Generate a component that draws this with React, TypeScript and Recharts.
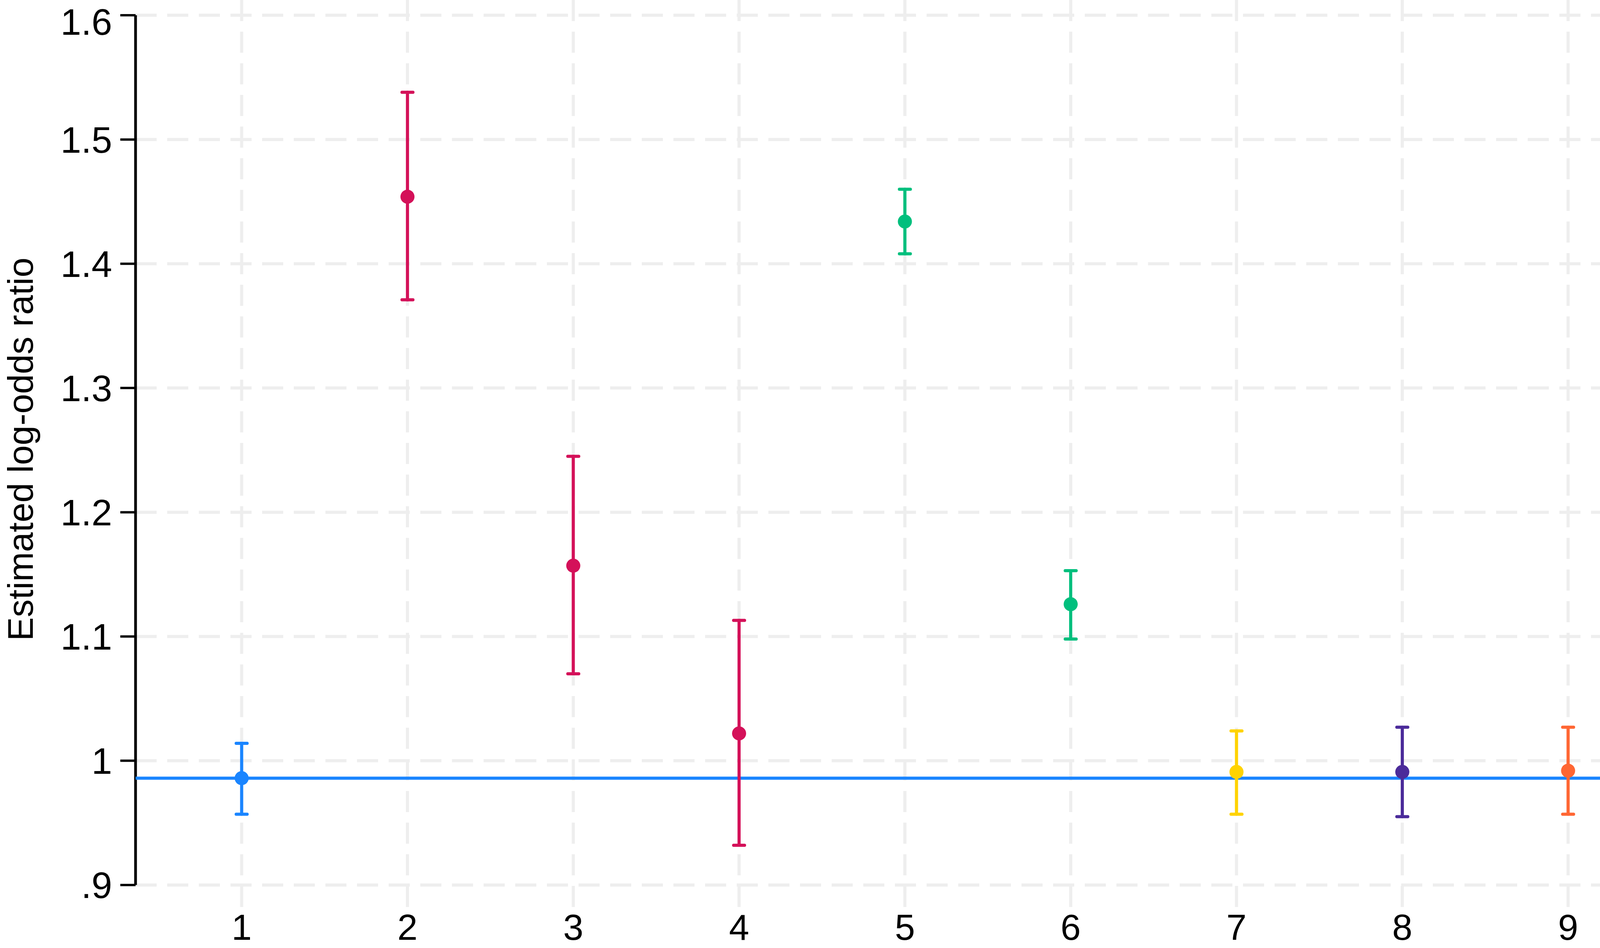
import {
  CartesianGrid,
  ComposedChart,
  Customized,
  ErrorBar,
  ReferenceLine,
  Scatter,
  XAxis,
  YAxis,
} from 'recharts';

const categories = [1, 2, 3, 4, 5, 6, 7, 8, 9];
const estimates = [0.986, 1.454, 1.157, 1.022, 1.434, 1.126, 0.991, 0.991, 0.992];
const lowerCI = [0.957, 1.371, 1.07, 0.932, 1.408, 1.098, 0.957, 0.955, 0.957];
const upperCI = [1.014, 1.538, 1.245, 1.113, 1.46, 1.153, 1.024, 1.027, 1.027];
const pointColors = [
  '#1A85FF',
  '#D41159',
  '#D41159',
  '#D41159',
  '#00BF7D',
  '#00BF7D',
  '#FFD300',
  '#4B2B9A',
  '#FF6633',
];
const baseline = 0.986;
const yTicks = [0.9, 1.0, 1.1, 1.2, 1.3, 1.4, 1.5, 1.6];
const xTicks = categories;

const X_DOMAIN: [number, number] = [0.36, 9.64];
const Y_DOMAIN: [number, number] = [0.8823, 1.6123];
const FONT = '"Liberation Sans", Arial, Helvetica, sans-serif';

const rows = categories.map((c, i) => ({
  x: c,
  y: estimates[i],
  err: [estimates[i] - lowerCI[i], upperCI[i] - estimates[i]],
}));

const fmtY = (v: number): string => {
  if (Math.abs(v - 1) < 1e-9) return '1';
  if (v < 1) return '.' + Math.round(v * 10);
  return v.toFixed(1);
};

const YLabel = () => (
  <text
    x={84}
    y={1150}
    transform="rotate(-90 84 1150)"
    textAnchor="middle"
    fontFamily={FONT}
    fontSize={91}
    fill="#000"
  >
    Estimated log-odds ratio
  </text>
);

export default function App(): React.ReactElement {
  return (
    <div style={{ position: 'absolute', left: 0, top: 0, width: 4286, height: 2427, background: '#fff' }}>
      <ComposedChart
        width={4286}
        height={2427}
        margin={{ top: 0, right: 0, bottom: 0, left: 0 }}
      >
        <CartesianGrid
          stroke="#EEEEEE"
          strokeWidth={8}
          strokeDasharray="54 27"
          syncWithTicks
        />
        <XAxis
          type="number"
          dataKey="x"
          domain={X_DOMAIN}
          ticks={xTicks}
          allowDataOverflow
          axisLine={false}
          tickLine={false}
          tickSize={0}
          tickMargin={18}
          height={105}
          tick={{ fill: '#000', fontSize: 93, fontFamily: FONT }}
        />
        <YAxis
          type="number"
          dataKey="y"
          domain={Y_DOMAIN}
          ticks={yTicks}
          allowDataOverflow
          width={347}
          axisLine={false}
          tickLine={{ stroke: '#000', strokeWidth: 6 }}
          tickSize={39}
          tickMargin={21}
          tickFormatter={fmtY}
          tick={{ fill: '#000', fontSize: 95, fontFamily: FONT }}
        />
        <ReferenceLine
          segment={[
            { x: X_DOMAIN[0], y: 0.9 },
            { x: X_DOMAIN[0], y: 1.6 },
          ]}
          stroke="#000"
          strokeWidth={7}
          ifOverflow="visible"
        />
        <ReferenceLine y={baseline} stroke="#1A85FF" strokeWidth={8} />
        {rows.map((r, i) => (
          <Scatter
            key={i}
            data={[r]}
            fill={pointColors[i]}
            isAnimationActive={false}
            shape={(p: any) => <circle cx={p.cx} cy={p.cy} r={18} fill={pointColors[i]} />}
          >
            <ErrorBar
              dataKey="err"
              direction="y"
              width={14}
              stroke={pointColors[i]}
              strokeWidth={8}
              strokeLinecap="round"
              isAnimationActive={false}
            />
          </Scatter>
        ))}
        <Customized component={YLabel} />
      </ComposedChart>
    </div>
  );
}
